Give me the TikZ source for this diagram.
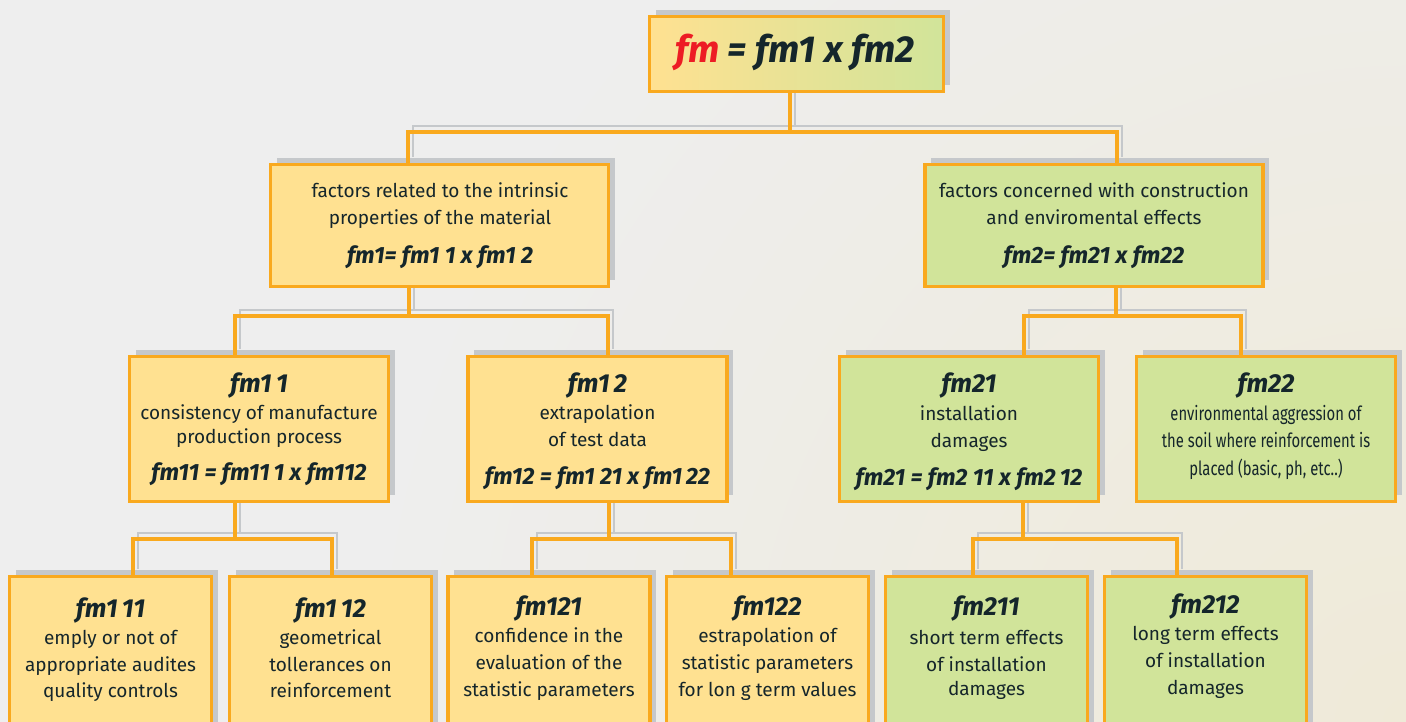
\documentclass[tikz,border=0pt]{standalone}
\usepackage{fontspec}
\setmainfont{Fira Sans}
\newfontfamily\condfont[FakeStretch=0.76]{Fira Sans}
\usetikzlibrary{shadows,calc}
\definecolor{bgc}{HTML}{EEEEEE}
\definecolor{bgbeige}{HTML}{EFEAD8}
\definecolor{byellow}{HTML}{FFE191}
\definecolor{bgreen}{HTML}{D1E49A}
\definecolor{borange}{HTML}{F9A91E}
\definecolor{shadowc}{HTML}{C5C8CB}
\definecolor{tdark}{HTML}{15262B}
\definecolor{fmred}{HTML}{ED1C24}
\pgfdeclarelayer{back}
\pgfsetlayers{back,main}
\tikzset{
  box/.style={draw=borange, line width=3.5pt, inner sep=0pt, rectangle,
    drop shadow={shadow xshift=6pt, shadow yshift=6.5pt, opacity=1, fill=shadowc}},
  ybox/.style={box, fill=byellow},
  gbox/.style={box, fill=bgreen},
  lvltwo/.style={minimum width=338pt, minimum height=122pt},
  lvlthree/.style={minimum width=259pt, minimum height=145pt},
  lvlfour/.style={minimum width=202pt, minimum height=167pt},
  oline/.style={draw=borange, line width=3.5pt},
  gline/.style={draw=shadowc, line width=2.5pt, transform canvas={xshift=5pt, yshift=6pt}},
  body/.style={font=\fontsize{19}{24}\selectfont, text=tdark, inner sep=0pt, anchor=base},
  cbody/.style={font=\condfont\fontsize{19.5}{24}\selectfont, text=tdark, inner sep=0pt, anchor=base},
  ttl/.style={font=\fontsize{26}{30}\selectfont\bfseries\itshape, text=tdark, inner sep=0pt, anchor=base},
  frm/.style={font=\fontsize{23.5}{28}\selectfont\bfseries\itshape, text=tdark, inner sep=0pt, anchor=base},
}
\begin{document}
\begin{tikzpicture}[x=1pt, y=-1pt]
\useasboundingbox (0,0) rectangle (1406,722);
\clip (0,0) rectangle (1406,722);
\begin{pgfonlayer}{back}
  \fill[bgc] (0,0) rectangle (1406,722);
  \shade[inner color=bgbeige, outer color=bgc] (1406,722) circle (1050);
\end{pgfonlayer}

% boxes
\node[box, left color=byellow, right color=bgreen, minimum width=294pt, minimum height=75pt] (top) at (796.5,54) {};
\node[ybox, lvltwo] (L) at (439.5,225.5) {};
\node[gbox, lvltwo] (R) at (1094,225.5) {};
\node[ybox, lvlthree] (f11) at (259,429) {};
\node[ybox, lvlthree] (f12) at (597.5,429) {};
\node[gbox, lvlthree] (f21) at (969,429) {};
\node[gbox, lvlthree] (f22) at (1266,429) {};
\node[ybox, lvlfour] (b111) at (110.5,660) {};
\node[ybox, lvlfour] (b112) at (330.5,660) {};
\node[ybox, lvlfour] (b121) at (549,660) {};
\node[ybox, lvlfour] (b122) at (767.5,660) {};
\node[gbox, lvlfour] (b211) at (986.5,660) {};
\node[gbox, lvlfour] (b212) at (1205.5,660) {};

% junction points
\coordinate (jA) at (790,132);
\coordinate (jB) at (409,316);
\coordinate (jC) at (1116,316);
\coordinate (jD) at (235,539);
\coordinate (jE) at (609,539);
\coordinate (jF) at (1023,539);

% shadow lines
\begin{pgfonlayer}{back}
  \draw[gline] (jA |- top.south) -- (jA);
  \draw[gline] ([xshift=-31.5pt]L.north) |- (jA) -| ([xshift=23pt]R.north);
  \draw[gline] (jB |- L.south) -- (jB);
  \draw[gline] ([xshift=-24pt]f11.north) |- (jB) -| ([xshift=10.5pt]f12.north);
  \draw[gline] (jC |- R.south) -- (jC);
  \draw[gline] ([xshift=55pt]f21.north) |- (jC) -| ([xshift=-25pt]f22.north);
  \draw[gline] (jD |- f11.south) -- (jD);
  \draw[gline] ([xshift=22.5pt]b111.north) |- (jD) -| ([xshift=1.5pt]b112.north);
  \draw[gline] (jE |- f12.south) -- (jE);
  \draw[gline] ([xshift=-17pt]b121.north) |- (jE) -| ([xshift=-36.5pt]b122.north);
  \draw[gline] (jF |- f21.south) -- (jF);
  \draw[gline] ([xshift=-13.5pt]b211.north) |- (jF) -| ([xshift=-28.5pt]b212.north);
\end{pgfonlayer}

% orange connectors
\draw[oline] (jA |- top.south) -- (jA);
\draw[oline] ([xshift=-31.5pt]L.north) |- (jA) -| ([xshift=23pt]R.north);
\draw[oline] (jB |- L.south) -- (jB);
\draw[oline] ([xshift=-24pt]f11.north) |- (jB) -| ([xshift=10.5pt]f12.north);
\draw[oline] (jC |- R.south) -- (jC);
\draw[oline] ([xshift=55pt]f21.north) |- (jC) -| ([xshift=-25pt]f22.north);
\draw[oline] (jD |- f11.south) -- (jD);
\draw[oline] ([xshift=22.5pt]b111.north) |- (jD) -| ([xshift=1.5pt]b112.north);
\draw[oline] (jE |- f12.south) -- (jE);
\draw[oline] ([xshift=-17pt]b121.north) |- (jE) -| ([xshift=-36.5pt]b122.north);
\draw[oline] (jF |- f21.south) -- (jF);
\draw[oline] ([xshift=-13.5pt]b211.north) |- (jF) -| ([xshift=-28.5pt]b212.north);

% texts
\node[font=\fontsize{37.5}{42}\selectfont\bfseries\itshape, text=tdark, inner sep=0pt, anchor=base] (ttop) at (795,63) {\textcolor{fmred}{fm} = fm1 x fm2};

\node[body] (tLa) at (440,198) {factors related to the intrinsic};
\node[body] (tLb) at (440,225) {properties of the material};
\node[frm]  (tLc) at (440,263) {fm1= fm1 1 x fm1 2};

\node[body] (tRa) at (1094,198) {factors concerned with construction};
\node[body] (tRb) at (1094,225) {and enviromental effects};
\node[frm]  (tRc) at (1094,263) {fm2= fm21 x fm22};

\node[ttl]  (t11a) at (259,392) {fm1\,1};
\node[body] (t11b) at (259,419) {consistency of manufacture};
\node[body] (t11c) at (259,443) {production process};
\node[frm]  (t11d) at (259,480) {fm11 = fm11\,1 x fm112};

\node[ttl]  (t12a) at (597.5,392) {fm1\,2};
\node[body] (t12b) at (597.5,419) {extrapolation};
\node[body] (t12c) at (597.5,446) {of test data};
\node[frm]  (t12d) at (597.5,484) {fm12 = fm1 21 x fm1\,22};

\node[ttl]  (t21a) at (969,392) {fm21};
\node[body] (t21b) at (969,420) {installation};
\node[body] (t21c) at (969,447) {damages};
\node[frm]  (t21d) at (969,485) {fm21 = fm2 11 x fm2\,12};

\node[ttl]   (t22a) at (1266,392) {fm22};
\node[cbody] (t22b) at (1266,420) {environmental aggression of};
\node[cbody] (t22c) at (1266,447) {the soil where reinforcement is};
\node[cbody] (t22d) at (1266,475) {placed (basic, ph, etc..)};

\node[ttl]  (t111a) at (110.5,617) {fm1\,11};
\node[body] (t111b) at (110.5,644) {emply or not of};
\node[body] (t111c) at (110.5,671) {appropriate audites};
\node[body] (t111d) at (110.5,697) {quality controls};

\node[ttl]  (t112a) at (330.5,617) {fm1\,12};
\node[body] (t112b) at (330.5,644) {geometrical};
\node[body] (t112c) at (330.5,671) {tollerances on};
\node[body] (t112d) at (330.5,697) {reinforcement};

\node[ttl]  (t121a) at (549,615) {fm121};
\node[body] (t121b) at (549,642) {confidence in the};
\node[body] (t121c) at (549,669) {evaluation of the};
\node[body] (t121d) at (549,696) {statistic parameters};

\node[ttl]  (t122a) at (767.5,615) {fm122};
\node[body] (t122b) at (767.5,642) {estrapolation of};
\node[body] (t122c) at (767.5,669) {statistic parameters};
\node[body] (t122d) at (767.5,696) {for lon g term values};

\node[ttl]  (t211a) at (986.5,615) {fm211};
\node[body] (t211b) at (986.5,644) {short term effects};
\node[body] (t211c) at (986.5,671) {of installation};
\node[body] (t211d) at (986.5,695) {damages};

\node[ttl]  (t212a) at (1205.5,613) {fm212};
\node[body] (t212b) at (1205.5,640) {long term effects};
\node[body] (t212c) at (1205.5,667) {of installation};
\node[body] (t212d) at (1205.5,694) {damages};
\end{tikzpicture}
\end{document}
